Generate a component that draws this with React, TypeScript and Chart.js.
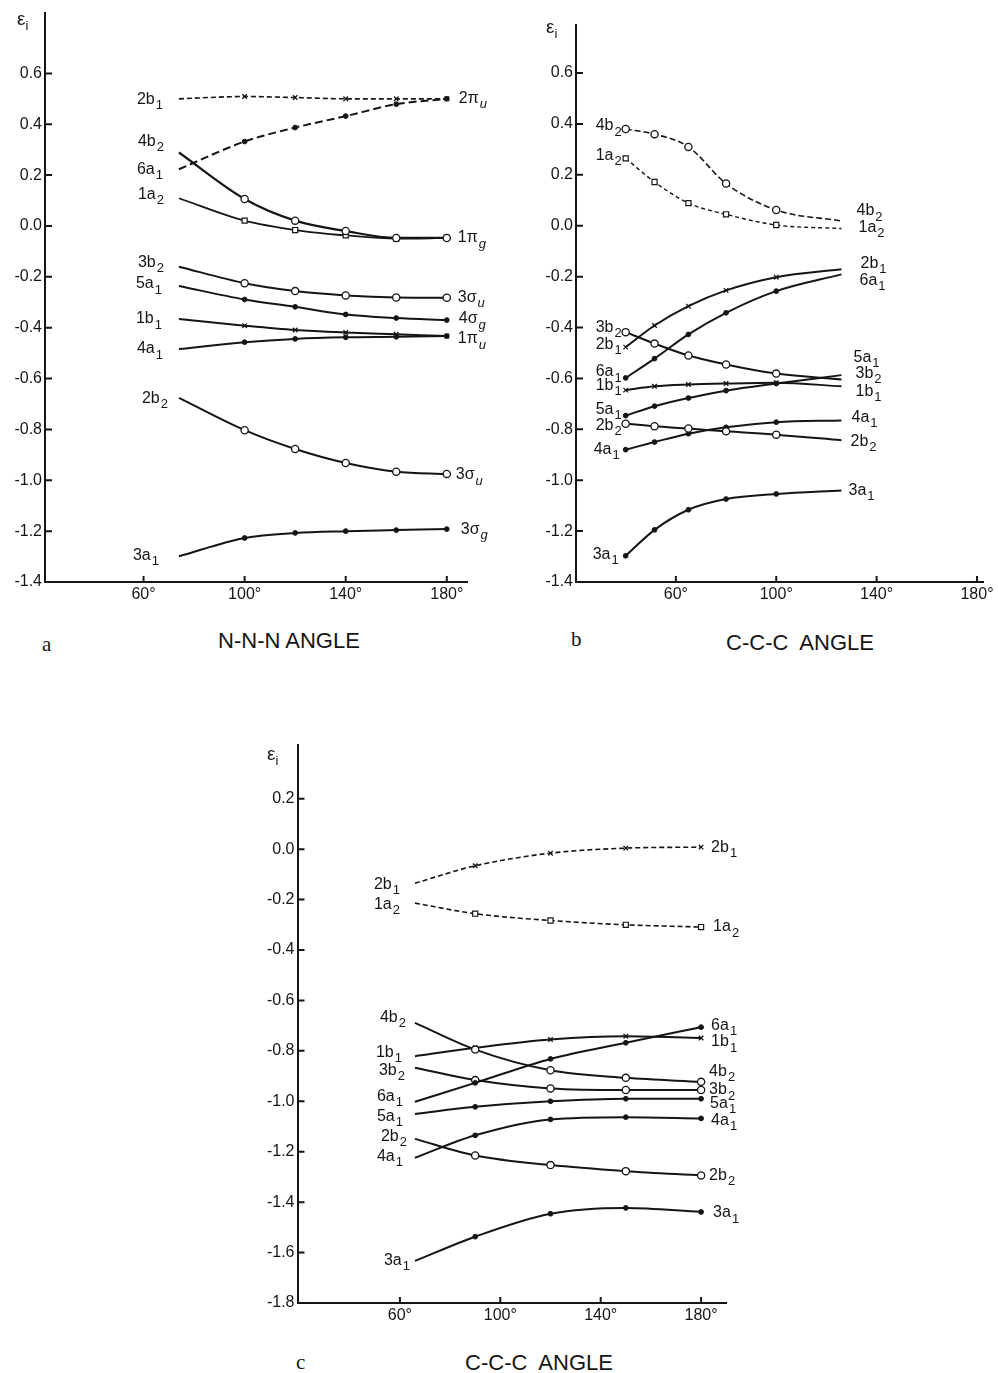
import React, { useEffect, useRef } from "react";
import { Chart, registerables } from "chart.js";

Chart.register(...registerables);

const INK = "#151515";
const SANS = '"Liberation Sans", Arial, Helvetica, sans-serif';
const SERIF = '"Liberation Serif", "Times New Roman", serif';

// ---------------- Panel a : N-N-N angle ----------------
const anglesA = [74, 100, 120, 140, 160, 180];
const a_2b1 = [0.5, 0.509, 0.505, 0.5, 0.5, 0.5];
const a_6a1 = [0.223, 0.332, 0.387, 0.432, 0.479, 0.5];
const a_4b2 = [0.289, 0.106, 0.021, -0.02, -0.047, -0.047];
const a_1a2 = [0.109, 0.021, -0.016, -0.037, -0.05, -0.047];
const a_3b2 = [-0.16, -0.225, -0.256, -0.273, -0.281, -0.282];
const a_5a1 = [-0.236, -0.289, -0.318, -0.348, -0.362, -0.37];
const a_1b1 = [-0.366, -0.392, -0.409, -0.419, -0.426, -0.433];
const a_4a1 = [-0.484, -0.457, -0.444, -0.438, -0.436, -0.433];
const a_2b2 = [-0.676, -0.803, -0.877, -0.932, -0.966, -0.975];
const a_3a1 = [-1.299, -1.227, -1.207, -1.2, -1.196, -1.192];

// ---------------- Panel b : C-C-C angle ----------------
const anglesB = [40, 51.5, 65, 80, 100, 126];
const b_4b2 = [0.38, 0.36, 0.31, 0.166, 0.062, 0.019];
const b_1a2 = [0.265, 0.172, 0.089, 0.045, 0.003, -0.011];
const b_2b1 = [-0.477, -0.392, -0.316, -0.254, -0.202, -0.171];
const b_6a1 = [-0.598, -0.522, -0.427, -0.342, -0.257, -0.191];
const b_3b2 = [-0.418, -0.463, -0.51, -0.545, -0.581, -0.604];
const b_1b1 = [-0.646, -0.631, -0.624, -0.62, -0.617, -0.631];
const b_5a1 = [-0.746, -0.709, -0.677, -0.648, -0.62, -0.587];
const b_2b2 = [-0.778, -0.788, -0.797, -0.808, -0.821, -0.843];
const b_4a1 = [-0.88, -0.85, -0.817, -0.792, -0.772, -0.765];
const b_3a1 = [-1.297, -1.195, -1.116, -1.074, -1.054, -1.04];

// ---------------- Panel c : C-C-C angle ----------------
const anglesC = [66, 90, 120, 150, 180];
const c_2b1 = [-0.135, -0.066, -0.016, 0.004, 0.008];
const c_1a2 = [-0.214, -0.256, -0.283, -0.3, -0.309];
const c_4b2 = [-0.689, -0.795, -0.877, -0.907, -0.923];
const c_1b1 = [-0.821, -0.788, -0.755, -0.742, -0.749];
const c_6a1 = [-1.002, -0.927, -0.832, -0.768, -0.706];
const c_3b2 = [-0.867, -0.916, -0.949, -0.955, -0.955];
const c_5a1 = [-1.05, -1.022, -1.0, -0.99, -0.99];
const c_2b2 = [-1.149, -1.215, -1.253, -1.277, -1.294];
const c_4a1 = [-1.224, -1.135, -1.072, -1.063, -1.068];
const c_3a1 = [-1.633, -1.537, -1.446, -1.423, -1.439];

// ---------------- ticks ----------------
const xTickAngles = [60, 100, 140, 180];
const yTicksAB = [0.6, 0.4, 0.2, 0.0, -0.2, -0.4, -0.6, -0.8, -1.0, -1.2, -1.4];
const yTicksC = [0.2, 0.0, -0.2, -0.4, -0.6, -0.8, -1.0, -1.2, -1.4, -1.6, -1.8];

type Lab = { t: string; s: string; it?: boolean; dy: number; g: number };
type Mk = "open" | "dot" | "x" | "sq";

const MK: Record<Mk, { style: string; r: number; bg: string; bw: number }> = {
  open: { style: "circle", r: 3.6, bg: "#ffffff", bw: 1.3 },
  dot: { style: "circle", r: 2.4, bg: INK, bw: 1 },
  x: { style: "crossRot", r: 3.2, bg: INK, bw: 1.3 },
  sq: { style: "rect", r: 3.6, bg: "#ffffff", bw: 1.2 },
};

const L = (t: string, s: string, dy: number, g: number, it = false): Lab => ({ t, s, dy, g, it });

function series(
  angles: number[],
  values: number[],
  mk: Mk,
  noMark: number,
  width: number,
  dash: number[],
  labL?: Lab,
  labR?: Lab
) {
  const m = MK[mk];
  const r = values.map((_, i) => (i === noMark ? 0 : m.r));
  return {
    data: angles.map((a, i) => ({ x: a, y: values[i] })),
    borderColor: INK,
    borderWidth: width,
    borderDash: dash,
    pointStyle: m.style,
    pointRadius: r,
    pointHoverRadius: r,
    pointBackgroundColor: m.bg,
    pointBorderColor: INK,
    pointBorderWidth: m.bw,
    cubicInterpolationMode: "monotone",
    fill: false,
    labL,
    labR,
  };
}

function drawLab(ctx: CanvasRenderingContext2D, x: number, y: number, lab: Lab, align: "left" | "right") {
  const mainFont = `16px ${SANS}`;
  const subFont = `${lab.it ? "italic " : ""}13px ${SANS}`;
  ctx.font = mainFont;
  const wm = ctx.measureText(lab.t).width;
  ctx.font = subFont;
  const ws = ctx.measureText(lab.s).width;
  const total = wm + 1 + ws;
  const x0 = align === "right" ? x - total : x;
  ctx.textAlign = "left";
  ctx.textBaseline = "middle";
  ctx.font = mainFont;
  ctx.fillText(lab.t, x0, y);
  ctx.font = subFont;
  ctx.fillText(lab.s, x0 + wm + 1, y + 6);
}

const decor = {
  id: "decor",
  afterDraw(chart: any) {
    const { ctx, chartArea } = chart;
    const xs = chart.scales.x;
    const ys = chart.scales.y;
    ctx.save();
    ctx.strokeStyle = INK;
    ctx.lineWidth = 2;
    ctx.setLineDash([]);
    ctx.beginPath();
    ys.ticks.forEach((t: any) => {
      const y = ys.getPixelForValue(t.value);
      ctx.moveTo(chartArea.left, y);
      ctx.lineTo(chartArea.left + 7, y);
    });
    xs.ticks.forEach((t: any) => {
      const x = xs.getPixelForValue(t.value);
      ctx.moveTo(x, chartArea.bottom);
      ctx.lineTo(x, chartArea.bottom - 6);
    });
    ctx.stroke();
    ctx.fillStyle = INK;
    chart.data.datasets.forEach((d: any, i: number) => {
      const pts = chart.getDatasetMeta(i).data;
      if (d.labL) {
        const p = pts[0];
        drawLab(ctx, p.x - d.labL.g, p.y + d.labL.dy, d.labL, "right");
      }
      if (d.labR) {
        const p = pts[pts.length - 1];
        drawLab(ctx, p.x + d.labR.g, p.y + d.labR.dy, d.labR, "left");
      }
    });
    ctx.restore();
  },
};

type PanelProps = {
  box: { left: number; top: number; width: number; height: number };
  area: { l: number; t: number; r: number; b: number };
  xr: [number, number];
  yr: [number, number];
  yTicks: number[];
  datasets: any[];
};

const Y_W = 40;
const X_H = 30;

function Panel({ box, area, xr, yr, yTicks, datasets }: PanelProps) {
  const ref = useRef<HTMLCanvasElement | null>(null);
  useEffect(() => {
    if (!ref.current) return;
    const L0 = area.l - box.left;
    const T0 = area.t - box.top;
    const R0 = area.r - box.left;
    const B0 = area.b - box.top;
    const tickFont = { family: SANS, size: 16, lineHeight: 1.2 };
    const chart = new Chart(ref.current, {
      type: "line",
      data: { datasets },
      options: {
        animation: false,
        responsive: false,
        devicePixelRatio: 1,
        events: [],
        layout: {
          padding: { left: L0 - Y_W, top: T0, right: box.width - R0, bottom: box.height - B0 - X_H },
        },
        plugins: { legend: { display: false }, tooltip: { enabled: false } },
        scales: {
          x: {
            type: "linear",
            min: xr[0],
            max: xr[1],
            grid: { display: false, drawTicks: false },
            border: { display: true, color: INK, width: 2 },
            afterBuildTicks: (s: any) => {
              s.ticks = xTickAngles.map((v) => ({ value: v }));
            },
            afterFit: (s: any) => {
              s.height = X_H;
            },
            ticks: {
              autoSkip: false,
              maxRotation: 0,
              padding: 3,
              color: INK,
              font: tickFont,
              callback: (v: any) => `${v}°`,
            },
          },
          y: {
            type: "linear",
            min: yr[0],
            max: yr[1],
            grid: { display: false, drawTicks: false },
            border: { display: true, color: INK, width: 2 },
            afterBuildTicks: (s: any) => {
              s.ticks = yTicks.map((v) => ({ value: v }));
            },
            afterFit: (s: any) => {
              s.width = Y_W;
            },
            ticks: {
              autoSkip: false,
              padding: 3,
              color: INK,
              font: tickFont,
              callback: (v: any) => Number(v).toFixed(1),
            },
          },
        },
      } as any,
      plugins: [decor as any],
    });
    return () => chart.destroy();
  }, []);
  return (
    <canvas
      ref={ref}
      width={box.width}
      height={box.height}
      style={{ position: "absolute", left: box.left, top: box.top, width: box.width, height: box.height }}
    />
  );
}

const dsA = [
  series(anglesA, a_2b1, "x", 0, 1.6, [5, 3], L("2b", "1", 1, 16)),
  series(anglesA, a_6a1, "dot", 0, 2, [8, 4], L("6a", "1", 0, 16), L("2π", "u", 0, 12, true)),
  series(anglesA, a_4b2, "open", 0, 2.2, [], L("4b", "2", -11, 15)),
  series(anglesA, a_1a2, "sq", 0, 1.8, [], L("1a", "2", -4, 15), L("1π", "g", 0, 11, true)),
  series(anglesA, a_3b2, "open", 0, 2, [], L("3b", "2", -4, 15), L("3σ", "u", 0, 11, true)),
  series(anglesA, a_5a1, "dot", 0, 2, [], L("5a", "1", -2, 17), L("4σ", "g", -1, 12, true)),
  series(anglesA, a_1b1, "x", 0, 2, [], L("1b", "1", 0, 17)),
  series(anglesA, a_4a1, "dot", 0, 2, [], L("4a", "1", 0, 16), L("1π", "u", 3, 11, true)),
  series(anglesA, a_2b2, "open", 0, 2, [], L("2b", "2", 1, 11), L("3σ", "u", 1, 9, true)),
  series(anglesA, a_3a1, "dot", 0, 2, [], L("3a", "1", -1, 20), L("3σ", "g", 0, 14, true)),
];

const dsB = [
  series(anglesB, b_4b2, "open", 5, 1.6, [6, 3], L("4b", "2", -3, 4), L("4b", "2", -10, 15)),
  series(anglesB, b_1a2, "sq", 5, 1.4, [4, 3], L("1a", "2", -3, 4), L("1a", "2", -1, 17)),
  series(anglesB, b_2b1, "x", 5, 2, [], L("2b", "1", -3, 4), L("2b", "1", -6, 19)),
  series(anglesB, b_6a1, "dot", 5, 2, [], L("6a", "1", -6, 4), L("6a", "1", 6, 18)),
  series(anglesB, b_3b2, "open", 5, 2, [], L("3b", "2", -5, 4), L("3b", "2", -6, 14)),
  series(anglesB, b_1b1, "x", 5, 2, [], L("1b", "1", -5, 4), L("1b", "1", 5, 14)),
  series(anglesB, b_5a1, "dot", 5, 2, [], L("5a", "1", -6, 4), L("5a", "1", -18, 12)),
  series(anglesB, b_2b2, "open", 5, 2, [], L("2b", "2", 2, 4), L("2b", "2", 1, 9)),
  series(anglesB, b_4a1, "dot", 5, 2, [], L("4a", "1", 0, 6), L("4a", "1", -3, 10)),
  series(anglesB, b_3a1, "dot", 5, 2, [], L("3a", "1", -1, 7), L("3a", "1", 0, 7)),
];

const dsC = [
  series(anglesC, c_2b1, "x", 0, 1.6, [5, 3], L("2b", "1", 1, 15), L("2b", "1", 0, 10)),
  series(anglesC, c_1a2, "sq", 0, 1.6, [5, 3], L("1a", "2", 1, 15), L("1a", "2", 0, 12)),
  series(anglesC, c_4b2, "open", 0, 2, [], L("4b", "2", -5, 9), L("4b", "2", -10, 8)),
  series(anglesC, c_1b1, "x", 0, 2, [], L("1b", "1", -4, 13), L("1b", "1", 4, 10)),
  series(anglesC, c_6a1, "dot", 0, 2, [], L("6a", "1", -5, 12), L("6a", "1", -2, 10)),
  series(anglesC, c_3b2, "open", 0, 2, [], L("3b", "2", 3, 10), L("3b", "2", 0, 8)),
  series(anglesC, c_5a1, "dot", 0, 2, [], L("5a", "1", 3, 12), L("5a", "1", 5, 9)),
  series(anglesC, c_2b2, "open", 0, 2, [], L("2b", "2", -2, 8), L("2b", "2", 0, 8)),
  series(anglesC, c_4a1, "dot", 0, 2, [], L("4a", "1", -1, 12), L("4a", "1", 2, 10)),
  series(anglesC, c_3a1, "dot", 0, 2, [], L("3a", "1", 0, 5), L("3a", "1", 1, 12)),
];

function Eps({ left, top }: { left: number; top: number }) {
  return (
    <div style={{ position: "absolute", left, top, font: `19px ${SANS}`, lineHeight: "19px", color: INK, whiteSpace: "nowrap" }}>
      ε<span style={{ fontSize: 13, position: "relative", top: 5 }}>i</span>
    </div>
  );
}

function Title({ cx, top, text }: { cx: number; top: number; text: string }) {
  return (
    <div
      style={{
        position: "absolute",
        left: cx - 120,
        width: 240,
        top,
        textAlign: "center",
        font: `22px ${SANS}`,
        lineHeight: "22px",
        color: INK,
        whiteSpace: "pre",
      }}
    >
      {text}
    </div>
  );
}

function Letter({ left, top, text }: { left: number; top: number; text: string }) {
  return (
    <div style={{ position: "absolute", left, top, font: `21px ${SERIF}`, lineHeight: "21px", color: INK }}>{text}</div>
  );
}

export default function App() {
  return (
    <div
      style={{
        position: "absolute",
        left: 0,
        top: 0,
        width: 998,
        height: 1373,
        background: "#ffffff",
        overflow: "hidden",
      }}
    >
      <Panel
        box={{ left: 0, top: 0, width: 490, height: 615 }}
        area={{ l: 45, t: 13, r: 467, b: 582 }}
        xr={[21, 188]}
        yr={[-1.4, 0.8375]}
        yTicks={yTicksAB}
        datasets={dsA}
      />
      <Panel
        box={{ left: 500, top: 0, width: 498, height: 615 }}
        area={{ l: 576, t: 25, r: 983, b: 582 }}
        xr={[20.2, 182.4]}
        yr={[-1.4, 0.789]}
        yTicks={yTicksAB}
        datasets={dsB}
      />
      <Panel
        box={{ left: 230, top: 730, width: 540, height: 610 }}
        area={{ l: 297.5, t: 745, r: 726.7, b: 1303 }}
        xr={[19.2, 190.2]}
        yr={[-1.8, 0.413]}
        yTicks={yTicksC}
        datasets={dsC}
      />
      <Eps left={17} top={9} />
      <Eps left={546} top={17} />
      <Eps left={267} top={744} />
      <Title cx={289} top={630} text="N-N-N ANGLE" />
      <Title cx={800} top={632} text="C-C-C  ANGLE" />
      <Title cx={539} top={1352} text="C-C-C  ANGLE" />
      <Letter left={42} top={634} text="a" />
      <Letter left={571} top={629} text="b" />
      <Letter left={296} top={1352} text="c" />
    </div>
  );
}
